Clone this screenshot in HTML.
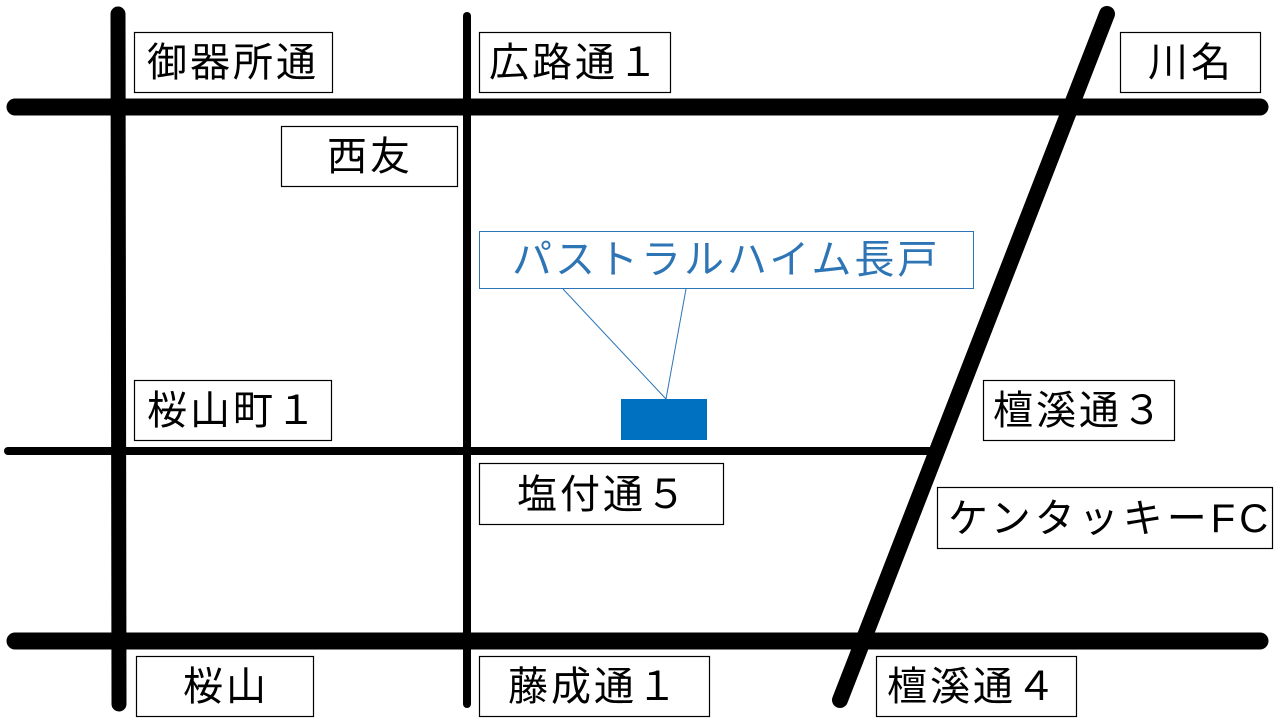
<!DOCTYPE html>
<html><head><meta charset="utf-8"><style>
html,body{margin:0;padding:0;background:#fff;}
svg{display:block}
text{font-family:"Liberation Sans","Noto Sans CJK JP",sans-serif;font-size:40px;letter-spacing:3px;}
</style></head><body>
<svg width="1280" height="720" viewBox="0 0 1280 720" xmlns="http://www.w3.org/2000/svg">
<g stroke="#000" stroke-linecap="round" fill="none">
<line x1="118" y1="14" x2="119" y2="704" stroke-width="15"/>
<line x1="467" y1="16" x2="467" y2="704" stroke-width="8"/>
<line x1="15" y1="107" x2="1260" y2="107" stroke-width="17"/>
<line x1="8" y1="451" x2="930" y2="451" stroke-width="8"/>
<line x1="15" y1="641" x2="1260" y2="641" stroke-width="17"/>
<line x1="1107" y1="14" x2="840" y2="700" stroke-width="16"/>
</g>
<g fill="#fff" stroke="#000" stroke-width="1.2">
<rect x="134.5" y="32.5" width="198" height="60"/>
<rect x="479.5" y="32.5" width="191" height="60"/>
<rect x="1120.5" y="32.5" width="140" height="60"/>
<rect x="281.5" y="126.5" width="176" height="60"/>
<rect x="134.5" y="380.5" width="197" height="60"/>
<rect x="983.5" y="380.5" width="191" height="60"/>
<rect x="479.5" y="463.5" width="244" height="61"/>
<rect x="937.5" y="487.5" width="335" height="61"/>
<rect x="136.5" y="656.5" width="177" height="60"/>
<rect x="479.5" y="656.5" width="230" height="60"/>
<rect x="876.5" y="656.5" width="200" height="60"/>
</g>
<rect x="479.5" y="231.5" width="494" height="57" fill="#fff" stroke="#2E75B6" stroke-width="1"/>
<polyline points="563,289 666,399 686,289" fill="none" stroke="#2E75B6" stroke-width="1"/>
<rect x="621" y="399" width="86" height="41" fill="#0070C0"/>
<g fill="#000">
<text x="147" y="76">御器所通</text>
<text x="489" y="76">広路通１</text>
<text x="1148" y="76">川名</text>
<text x="327" y="170">西友</text>
<text x="147" y="424">桜山町１</text>
<text x="993" y="424">檀溪通３</text>
<text x="517" y="508">塩付通５</text>
<text x="948" y="532" style="letter-spacing:4px">ケンタッキーFC</text>
<text x="183" y="700">桜山</text>
<text x="508" y="700">藤成通１</text>
<text x="887" y="700">檀溪通４</text>
</g>
<text x="512" y="273" fill="#2E75B6">パストラルハイム長戸</text>
</svg>
</body></html>
